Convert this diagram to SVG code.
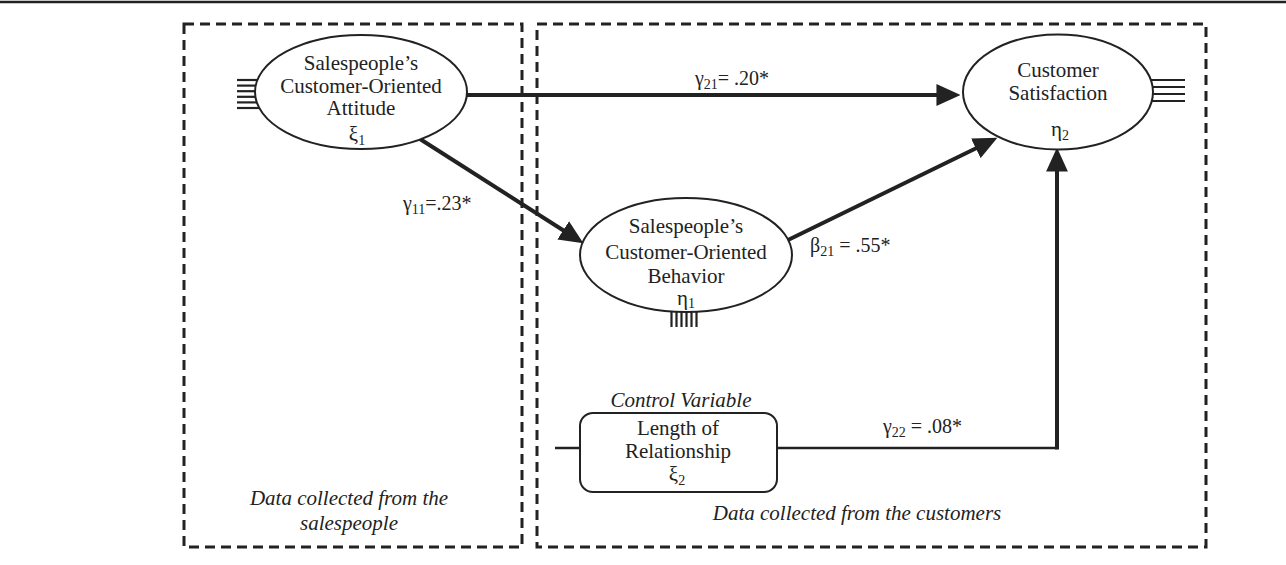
<svg xmlns="http://www.w3.org/2000/svg" width="1286" height="565" viewBox="0 0 1286 565">
<style>
.t{font-family:"Liberation Serif","Times New Roman",serif;font-size:21px;fill:#222;text-anchor:middle}
.l{font-family:"Liberation Serif","Times New Roman",serif;font-size:20px;fill:#222}
.i{font-style:italic}
.s{font-size:14px}
.box{fill:none;stroke:#222;stroke-width:3;stroke-dasharray:10 6}
.node{fill:#fff;stroke:#222;stroke-width:2}
.arr{fill:none;stroke:#222;stroke-width:4}
.err{stroke:#222;stroke-width:2.2}
</style>
<defs>
<marker id="ah" markerUnits="userSpaceOnUse" markerWidth="24" markerHeight="22" viewBox="0 0 22 20" refX="17" refY="10" orient="auto">
<path d="M0,0 L22,10 L0,20 z" fill="#222"/>
</marker>
</defs>
<line x1="0" y1="2" x2="1286" y2="2" stroke="#222" stroke-width="2.5"/>
<g id="box-salespeople">
<rect class="box" x="184" y="24" width="338" height="523"/>
<text class="t i" x="349" y="505">Data collected from the</text>
<text class="t i" x="349" y="530">salespeople</text>
</g>
<g id="box-customers">
<rect class="box" x="537" y="24" width="669" height="523"/>
<text class="t i" x="857" y="520">Data collected from the customers</text>
</g>
<g id="connectors">
<line class="arr" x1="467" y1="95" x2="955" y2="95" marker-end="url(#ah)"/>
<line class="arr" x1="420" y1="139" x2="578.8" y2="240.3" marker-end="url(#ah)"/>
<line class="arr" x1="788" y1="240" x2="992.5" y2="140.2" marker-end="url(#ah)"/>
<line x1="555" y1="448" x2="580" y2="448" stroke="#222" stroke-width="2.5"/>
<polyline points="777,448 1057,448" fill="none" stroke="#222" stroke-width="2.5"/>
<line class="arr" x1="1057" y1="449.5" x2="1057" y2="153" stroke-width="3.5" marker-end="url(#ah)"/>
<text class="l" x="695" y="85">γ<tspan class="s" dy="4">21</tspan><tspan dy="-4">= .20*</tspan></text>
<text class="l" x="403" y="210">γ<tspan class="s" dy="4">11</tspan><tspan dy="-4">=.23*</tspan></text>
<text class="l" x="810" y="252">β<tspan class="s" dy="4">21</tspan><tspan dy="-4"> = .55*</tspan></text>
<text class="l" x="883" y="433">γ<tspan class="s" dy="4">22</tspan><tspan dy="-4"> = .08*</tspan></text>
</g>
<g id="node-attitude">
<g class="err">
<line x1="237" y1="80" x2="262" y2="80"/>
<line x1="237" y1="85.6" x2="259" y2="85.6"/>
<line x1="237" y1="91.2" x2="258" y2="91.2"/>
<line x1="237" y1="96.8" x2="258" y2="96.8"/>
<line x1="237" y1="102.4" x2="259" y2="102.4"/>
<line x1="237" y1="108" x2="261" y2="108"/>
</g>
<ellipse class="node" cx="361" cy="92" rx="106" ry="57"/>
<text class="t" x="361" y="70">Salespeople’s</text>
<text class="t" x="361" y="93">Customer-Oriented</text>
<text class="t" x="361" y="115">Attitude</text>
<text class="t" x="357" y="141">ξ<tspan class="s" dy="4">1</tspan></text>
</g>
<g id="node-satisfaction">
<g class="err">
<line x1="1150" y1="80" x2="1185" y2="80"/>
<line x1="1152" y1="87" x2="1185" y2="87"/>
<line x1="1152" y1="94" x2="1185" y2="94"/>
<line x1="1150" y1="101" x2="1185" y2="101"/>
</g>
<ellipse class="node" cx="1058" cy="92" rx="95" ry="57.5"/>
<text class="t" x="1058" y="77">Customer</text>
<text class="t" x="1058" y="100">Satisfaction</text>
<text class="t" x="1060" y="136">η<tspan class="s" dy="4">2</tspan></text>
</g>
<g id="node-behavior">
<g class="err">
<line x1="671.5" y1="311" x2="671.5" y2="327"/>
<line x1="676.5" y1="311" x2="676.5" y2="327"/>
<line x1="681.5" y1="311" x2="681.5" y2="327"/>
<line x1="686.5" y1="311" x2="686.5" y2="327"/>
<line x1="691.5" y1="311" x2="691.5" y2="327"/>
<line x1="696.5" y1="311" x2="696.5" y2="327"/>
</g>
<ellipse class="node" cx="686" cy="255" rx="106" ry="57"/>
<text class="t" x="686" y="233">Salespeople’s</text>
<text class="t" x="686" y="259">Customer-Oriented</text>
<text class="t" x="686" y="283">Behavior</text>
<text class="t" x="686" y="305">η<tspan class="s" dy="3">1</tspan></text>
</g>
<g id="node-length">
<text class="t i" x="681" y="407">Control Variable</text>
<rect class="node" x="580" y="413" width="197" height="79" rx="13"/>
<text class="t" x="678" y="435">Length of</text>
<text class="t" x="678" y="458">Relationship</text>
<text class="t" x="677" y="481">ξ<tspan class="s" dy="4">2</tspan></text>
</g>
</svg>
